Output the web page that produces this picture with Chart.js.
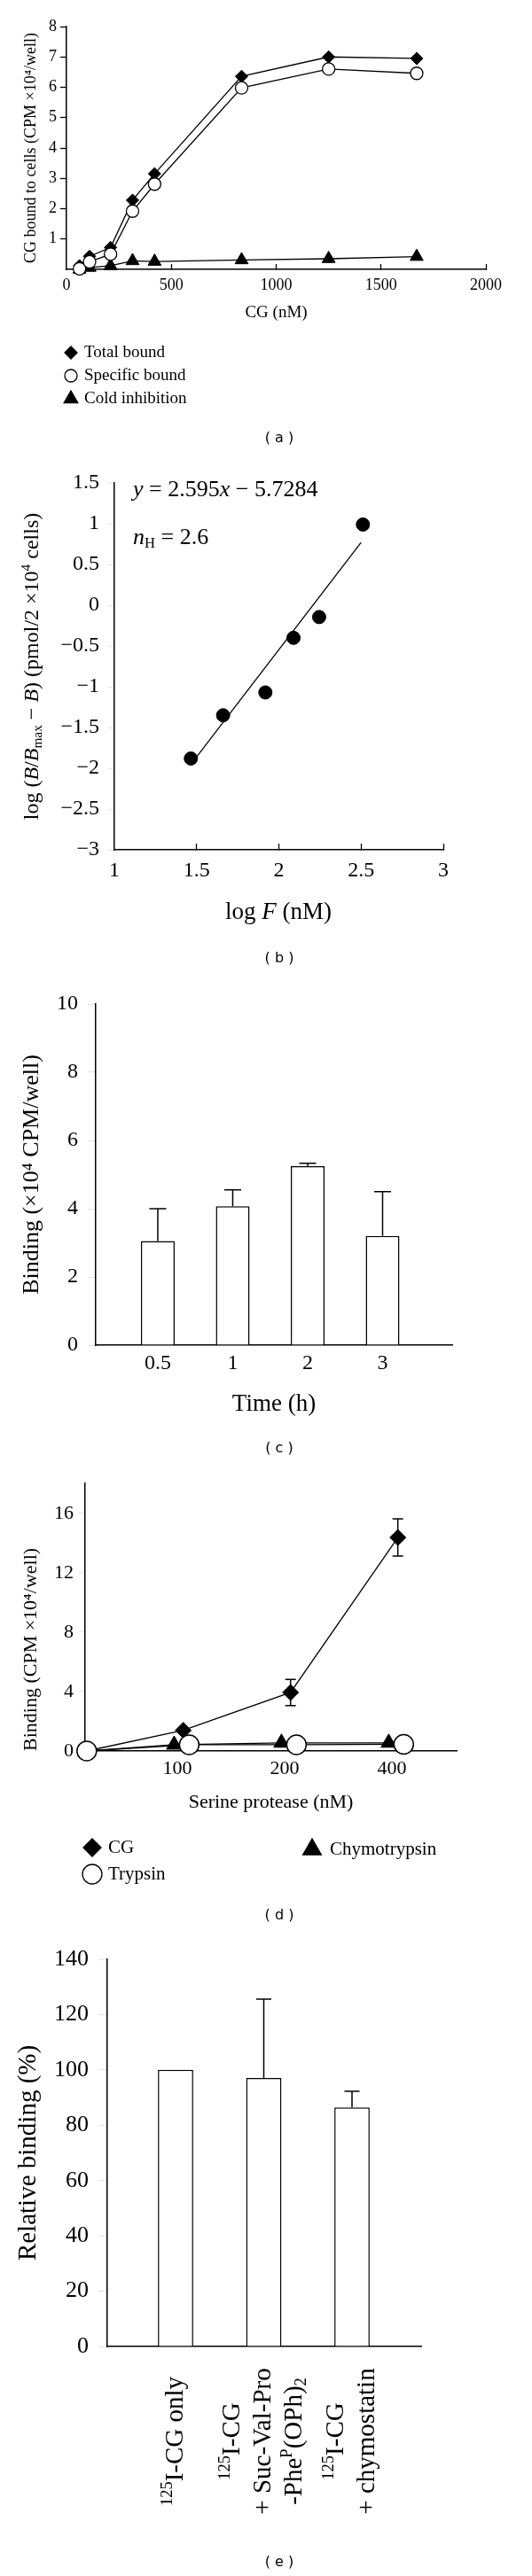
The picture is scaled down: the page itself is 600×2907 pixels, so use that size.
<!DOCTYPE html>
<html>
<head>
<meta charset="utf-8">
<script src="https://cdn.jsdelivr.net/npm/chart.js@4.4.1/dist/chart.umd.min.js"></script>
<style>
  html, body { margin: 0; padding: 0; background: #fff; }
  body { position: relative; width: 600px; height: 2907px; overflow: hidden; }
  canvas { position: absolute; left: 0; }
</style>
</head>
<body>
<canvas id="chartA" width="600" height="515" style="top:0px"></canvas>
<canvas id="chartB" width="600" height="585" style="top:515px"></canvas>
<canvas id="chartC" width="600" height="555" style="top:1100px"></canvas>
<canvas id="chartD" width="600" height="525" style="top:1655px"></canvas>
<canvas id="chartE" width="600" height="727" style="top:2180px"></canvas>
<script>
// (a) CG bound to cells
const cgConc = [62, 110, 210, 315, 420, 835, 1250, 1670];
const totalBound = [0.12, 0.43, 0.72, 2.28, 3.15, 6.36, 7.0, 6.95];
const specificBound = [0.02, 0.25, 0.5, 1.92, 2.81, 5.98, 6.6, 6.46];
const coldInhibition = [0.0, 0.06, 0.12, 0.28, 0.26, 0.31, 0.35, 0.42];

// (b) Hill plot
const logFree = [1.465, 1.661, 1.918, 2.089, 2.245, 2.511];
const logRatio = [-1.88, -1.35, -1.07, -0.4, -0.145, 0.99];
const fitLogFree = [1.5, 2.5];
const fitLogRatio = [-1.86, 0.77];

// (c) binding vs time
const timeLabels = ['0.5', '1', '2', '3'];
const bindingByTime = [3.05, 4.07, 5.25, 3.2];
const bindingByTimeErr = [0.95, 0.48, 0.08, 1.3];

// (d) serine protease
const proteaseDose = [0, 100, 200, 400];
const doseLabels = ['100', '200', '400'];
const cgBinding = [0, 1.39, 3.94, 14.37];
const cgBindingErr = [0, 0, 0.88, 1.25];
const trypsinBinding = [0, 0.42, 0.42, 0.45];
const chymoBinding = [0, 0.42, 0.55, 0.55];
const yTicksD = [0, 4, 8, 12, 16];

// (e) inhibitors
const inhibitorLabels = [
  [[['125', 'sup'], ['I-CG only']]],
  [[['125', 'sup'], ['I-CG']], [['+ Suc-Val-Pro']], [['-Phe'], ['P', 'sup'], ['(OPh)'], ['2', 'sub']]],
  [[['125', 'sup'], ['I-CG']], [['+ chymostatin']]]
];
const relBinding = [100, 97.1, 86.4];
const relBindingErr = [0, 28.5, 5.9];

const serif = '"Liberation Serif", "Times New Roman", serif';
Chart.defaults.font.family = serif;
Chart.defaults.color = '#000';

const common = {
  responsive: false,
  animation: false,
  events: [],
  plugins: { legend: { display: false }, tooltip: { enabled: false } }
};
const axisBorder = { color: '#000', width: 1.5 };
const clear = 'rgba(0,0,0,0)';

function pts(xs, ys) {
  return xs.map((x, i) => ({ x, y: ys[i] }));
}

// text made of pieces: [text, style] with style 'i', 'sup' or 'sub'
function drawRich(ctx, pieces, x, y, size, align, angle) {
  ctx.save();
  ctx.translate(x, y);
  if (angle) ctx.rotate(angle);
  ctx.textBaseline = 'middle';
  ctx.textAlign = 'left';
  ctx.fillStyle = '#000';
  const parts = pieces.map(([t, s]) => {
    const small = s === 'sup' || s === 'sub';
    const font = (s === 'i' ? 'italic ' : '') + (small ? size * 0.64 : size) + 'px ' + serif;
    ctx.font = font;
    return { t, font, w: ctx.measureText(t).width, dy: s === 'sup' ? -size * 0.3 : s === 'sub' ? size * 0.25 : 0 };
  });
  const total = parts.reduce((a, p) => a + p.w, 0);
  let cx = align === 'center' ? -total / 2 : align === 'right' ? -total : 0;
  parts.forEach(p => {
    ctx.font = p.font;
    ctx.fillText(p.t, cx, p.dy);
    cx += p.w;
  });
  ctx.restore();
}

function drawMarker(ctx, style, x, y, r, fill) {
  ctx.beginPath();
  if (style === 'circle') {
    ctx.arc(x, y, r, 0, Math.PI * 2);
  } else if (style === 'rectRot') {
    ctx.moveTo(x - r, y); ctx.lineTo(x, y - r); ctx.lineTo(x + r, y); ctx.lineTo(x, y + r);
    ctx.closePath();
  } else {
    ctx.moveTo(x, y - r); ctx.lineTo(x + r * 0.866, y + r / 2); ctx.lineTo(x - r * 0.866, y + r / 2);
    ctx.closePath();
  }
  ctx.fillStyle = fill;
  ctx.fill();
  ctx.strokeStyle = '#000';
  ctx.lineWidth = 1.3;
  ctx.stroke();
}

function caption(ctx, letter, y) {
  ctx.font = '16px "DejaVu Sans"';
  ctx.textAlign = 'center';
  ctx.textBaseline = 'middle';
  ctx.fillStyle = '#000';
  ctx.fillText('( ' + letter + ' )', 315, y);
}

function legendRows(ctx, chart, rows, size) {
  rows.forEach(row => {
    const ds = chart.data.datasets[row.ds];
    drawMarker(ctx, ds.pointStyle, row.x, row.y, row.r, ds.pointBackgroundColor);
    ctx.font = size + 'px ' + serif;
    ctx.textAlign = 'left';
    ctx.textBaseline = 'middle';
    ctx.fillStyle = '#000';
    ctx.fillText(ds.label, row.x + row.gap, row.y);
  });
}

function extras(draw) {
  return {
    id: 'extras',
    afterDraw(chart) {
      const ctx = chart.ctx;
      ctx.save();
      draw(ctx, chart);
      ctx.restore();
    }
  };
}

function errorBars(dsIndex, errUp, errDown, capW) {
  return {
    id: 'errorBars',
    afterDatasetsDraw(chart) {
      const ctx = chart.ctx;
      const ys = chart.scales.y;
      const meta = chart.getDatasetMeta(dsIndex);
      const vals = chart.data.datasets[dsIndex].data;
      ctx.save();
      ctx.strokeStyle = '#000';
      ctx.lineWidth = 1.5;
      meta.data.forEach((el, i) => {
        const v = vals[i].y;
        const up = errUp[i] || 0;
        const dn = errDown ? errDown[i] || 0 : 0;
        if (!up && !dn) return;
        const yTop = ys.getPixelForValue(v + up);
        const yBot = ys.getPixelForValue(v - dn);
        ctx.beginPath();
        ctx.moveTo(el.x, yBot);
        ctx.lineTo(el.x, yTop);
        if (up) { ctx.moveTo(el.x - capW / 2, yTop); ctx.lineTo(el.x + capW / 2, yTop); }
        if (dn) { ctx.moveTo(el.x - capW / 2, yBot); ctx.lineTo(el.x + capW / 2, yBot); }
        ctx.stroke();
      });
      ctx.restore();
    }
  };
}

// ---------- (a) ----------
new Chart(document.getElementById('chartA'), {
  type: 'line',
  data: {
    datasets: [
      { label: 'Total bound', data: pts(cgConc, totalBound), pointStyle: 'rectRot', pointRadius: 7,
        pointBackgroundColor: '#000', pointBorderColor: '#000', pointBorderWidth: 1,
        borderColor: '#000', borderWidth: 1.3, order: 2, clip: false },
      { label: 'Specific bound', data: pts(cgConc, specificBound), pointStyle: 'circle', pointRadius: 7,
        pointBackgroundColor: '#fff', pointBorderColor: '#000', pointBorderWidth: 1.3,
        borderColor: '#000', borderWidth: 1.3, order: 1, clip: false },
      { label: 'Cold inhibition', data: pts(cgConc, coldInhibition), pointStyle: 'triangle', pointRadius: 8.5,
        pointBackgroundColor: '#000', pointBorderColor: '#000', pointBorderWidth: 1,
        borderColor: '#000', borderWidth: 1.3, order: 3, clip: false }
    ]
  },
  options: {
    ...common,
    layout: { padding: { left: 0, top: 30, right: 52, bottom: 143 } },
    scales: {
      x: {
        type: 'linear', min: 0, max: 2000,
        ticks: { stepSize: 500, font: { size: 18 }, padding: 13, callback: v => String(v) },
        grid: { drawOnChartArea: false, tickLength: -6, tickWidth: 1.3,
          tickColor: c => (c.tick && c.tick.value === 0) ? clear : '#000' },
        border: axisBorder,
        title: { display: true, text: 'CG (nM)', font: { size: 19 }, padding: { top: 0, bottom: 8 } },
        afterFit: s => { s.height = 68; }
      },
      y: {
        min: 0, max: 8,
        ticks: { stepSize: 1, font: { size: 18 }, padding: 4, callback: v => v === 0 ? '' : String(v) },
        grid: { drawOnChartArea: false, tickLength: 7, tickWidth: 1.3,
          tickColor: c => (c.tick && c.tick.value === 0) ? clear : '#000' },
        border: axisBorder,
        title: { display: true, text: 'CG bound to cells (CPM ×10⁴/well)', font: { size: 18 }, padding: { top: 24, bottom: 0 } },
        afterFit: s => { s.width = 75; }
      }
    }
  },
  plugins: [extras((ctx, chart) => {
    legendRows(ctx, chart, [
      { ds: 0, x: 80, y: 398, r: 7, gap: 15 },
      { ds: 1, x: 80, y: 424, r: 7, gap: 15 },
      { ds: 2, x: 80, y: 450, r: 9, gap: 15 }
    ], 19);
    caption(ctx, 'a', 495);
  })]
});

// ---------- (b) ----------
new Chart(document.getElementById('chartB'), {
  type: 'scatter',
  data: {
    datasets: [
      { label: 'log(B/Bmax-B)', data: pts(logFree, logRatio), pointRadius: 7.5,
        pointBackgroundColor: '#000', pointBorderColor: '#000', showLine: false, clip: false },
      { label: 'fit', data: pts(fitLogFree, fitLogRatio), showLine: true, pointRadius: 0,
        borderColor: '#000', borderWidth: 1.3 }
    ]
  },
  options: {
    ...common,
    layout: { padding: { left: 0, top: 30, right: 100, bottom: 46 } },
    scales: {
      x: {
        type: 'linear', min: 1, max: 3,
        ticks: { stepSize: 0.5, font: { size: 24 }, padding: 16, callback: v => String(v) },
        grid: { drawOnChartArea: false, tickLength: -7, tickWidth: 1.3,
          tickColor: c => (c.tick && c.tick.value === 1) ? clear : '#000' },
        border: axisBorder,
        afterFit: s => { s.height = 95; }
      },
      y: {
        min: -3, max: 1.5,
        ticks: { stepSize: 0.5, font: { size: 24 }, padding: 10,
          callback: v => v < 0 ? '\u2212' + Math.abs(v) : String(v) },
        grid: { drawOnChartArea: false, tickLength: 7, tickWidth: 1.3 },
        border: axisBorder,
        afterFit: s => { s.width = 129; }
      }
    }
  },
  plugins: [extras(ctx => {
    drawRich(ctx, [['log ('], ['B', 'i'], ['/'], ['B', 'i'], ['max', 'sub'], [' \u2212 '], ['B', 'i'],
      [') (pmol/2 ×10'], ['4', 'sup'], [' cells)']], 37, 237, 24, 'center', -Math.PI / 2);
    drawRich(ctx, [['log '], ['F', 'i'], [' (nM)']], 314, 515, 27, 'center', 0);
    drawRich(ctx, [['y', 'i'], [' = 2.595'], ['x', 'i'], [' \u2212 5.7284']], 150, 38, 26, 'left', 0);
    drawRich(ctx, [['n', 'i'], ['H', 'sub'], [' = 2.6']], 150, 92, 26, 'left', 0);
    caption(ctx, 'b', 567);
  })]
});

// ---------- (c) ----------
new Chart(document.getElementById('chartC'), {
  type: 'bar',
  data: {
    datasets: [{
      label: 'Binding', data: pts(timeLabels.map((_, i) => i + 1), bindingByTime),
      backgroundColor: '#fff', borderColor: '#000', borderWidth: 1.5,
      barPercentage: 0.45, categoryPercentage: 1
    }]
  },
  options: {
    ...common,
    layout: { padding: { left: 0, top: 33, right: 90, bottom: 52 } },
    scales: {
      x: {
        type: 'linear', min: 0.172, max: 4.929, offset: false,
        afterBuildTicks: s => { s.ticks = timeLabels.map((_, i) => ({ value: i + 1 })); },
        ticks: { font: { size: 24 }, padding: 6, callback: (v, i) => timeLabels[i] },
        grid: { drawOnChartArea: false, drawTicks: false, offset: false },
        border: axisBorder,
        title: { display: true, text: 'Time (h)', font: { size: 27 }, padding: { top: 0, bottom: 2 } },
        afterFit: s => { s.height = 85; }
      },
      y: {
        min: 0, max: 10,
        ticks: { stepSize: 2, font: { size: 24 }, padding: 11 },
        grid: { drawOnChartArea: false, tickLength: 9, tickWidth: 1.3 },
        border: axisBorder,
        title: { display: true, text: 'Binding (×10⁴ CPM/well)', font: { size: 26 }, padding: { top: 21, bottom: 0 } },
        afterFit: s => { s.width = 108; }
      }
    }
  },
  plugins: [errorBars(0, bindingByTimeErr, null, 19), extras(ctx => caption(ctx, 'c', 535))]
});

// ---------- (d) ----------
const D_MIN = 5.784, D_MAX = 9.247;
const dosePos = d => d > 0 ? Math.log2(d) : D_MIN + 0.015;
function doseData(values, shift) {
  return proteaseDose.map((d, i) => ({ x: dosePos(d) + (d > 0 ? shift : 0), y: values[i] }));
}
new Chart(document.getElementById('chartD'), {
  type: 'line',
  data: {
    datasets: [
      { label: 'CG', data: doseData(cgBinding, 0.055), pointStyle: 'rectRot', pointRadius: 9,
        pointBackgroundColor: '#000', pointBorderColor: '#000', pointBorderWidth: 1,
        borderColor: '#000', borderWidth: 1.3, order: 2, clip: false },
      { label: 'Trypsin', data: doseData(trypsinBinding, 0.11), pointStyle: 'circle', pointRadius: 11,
        pointBackgroundColor: '#fff', pointBorderColor: '#000', pointBorderWidth: 1.5,
        borderColor: '#000', borderWidth: 1.3, order: 1, clip: false },
      { label: 'Chymotrypsin', data: doseData(chymoBinding, -0.03), pointStyle: 'triangle', pointRadius: 10,
        pointBackgroundColor: '#000', pointBorderColor: '#000', pointBorderWidth: 1,
        borderColor: '#000', borderWidth: 1.3, order: 3, clip: false }
    ]
  },
  options: {
    ...common,
    layout: { padding: { left: 0, top: 15, right: 85, bottom: 132 } },
    scales: {
      x: {
        type: 'linear', min: D_MIN, max: D_MAX,
        afterBuildTicks: s => { s.ticks = doseLabels.map(l => ({ value: Math.log2(Number(l)) })); },
        ticks: { font: { size: 22 }, padding: 7, callback: (v, i) => doseLabels[i] },
        grid: { drawOnChartArea: false, drawTicks: false },
        border: axisBorder,
        title: { display: true, text: 'Serine protease (nM)', font: { size: 22 }, padding: { top: 0, bottom: 1 } },
        afterFit: s => { s.height = 72; }
      },
      y: {
        min: 0, max: 18,
        afterBuildTicks: s => { s.ticks = yTicksD.map(v => ({ value: v })); },
        ticks: { font: { size: 22 }, padding: 6 },
        grid: { drawOnChartArea: false, tickLength: 7, tickWidth: 1.3 },
        border: axisBorder,
        title: { display: true, text: 'Binding (CPM ×10⁴/well)', font: { size: 22 }, align: 'start', padding: { top: 22, bottom: 0 } },
        afterFit: s => { s.width = 96; }
      }
    }
  },
  plugins: [errorBars(0, cgBindingErr, cgBindingErr, 12), extras((ctx, chart) => {
    legendRows(ctx, chart, [
      { ds: 0, x: 104, y: 430, r: 10, gap: 18 },
      { ds: 1, x: 104, y: 460, r: 11, gap: 18 },
      { ds: 2, x: 352, y: 432, r: 12, gap: 20 }
    ], 21);
    caption(ctx, 'd', 507);
  })]
});

// ---------- (e) ----------
new Chart(document.getElementById('chartE'), {
  type: 'bar',
  data: {
    datasets: [{
      label: 'Relative binding', data: pts(relBinding.map((_, i) => i + 1), relBinding),
      backgroundColor: '#fff', borderColor: '#000', borderWidth: 1.5,
      barPercentage: 0.4, categoryPercentage: 1
    }]
  },
  options: {
    ...common,
    layout: { padding: { left: 0, top: 31, right: 125, bottom: 59 } },
    scales: {
      x: {
        type: 'linear', min: 0.226, max: 3.784, offset: false,
        afterBuildTicks: s => { s.ticks = relBinding.map((_, i) => ({ value: i + 1 })); },
        ticks: { display: false },
        grid: { drawOnChartArea: false, drawTicks: false, offset: false },
        border: axisBorder,
        afterFit: s => { s.height = 200; }
      },
      y: {
        min: 0, max: 140,
        ticks: { stepSize: 20, font: { size: 26 }, padding: 11 },
        grid: { drawOnChartArea: false, tickLength: 10, tickWidth: 1.3 },
        border: axisBorder,
        title: { display: true, text: 'Relative binding (%)', font: { size: 29 }, padding: { top: 15, bottom: 0 } },
        afterFit: s => { s.width = 121; }
      }
    }
  },
  plugins: [errorBars(0, relBindingErr, null, 17), extras((ctx, chart) => {
    const xs = chart.scales.x;
    inhibitorLabels.forEach((lines, i) => {
      const xc = xs.getPixelForValue(i + 1);
      lines.forEach((line, j) => {
        drawRich(ctx, line, xc + (j - (lines.length - 1) / 2) * 35, 575, 29, 'center', -Math.PI / 2);
      });
    });
    caption(ctx, 'e', 712);
  })]
});
</script>
</body>
</html>
